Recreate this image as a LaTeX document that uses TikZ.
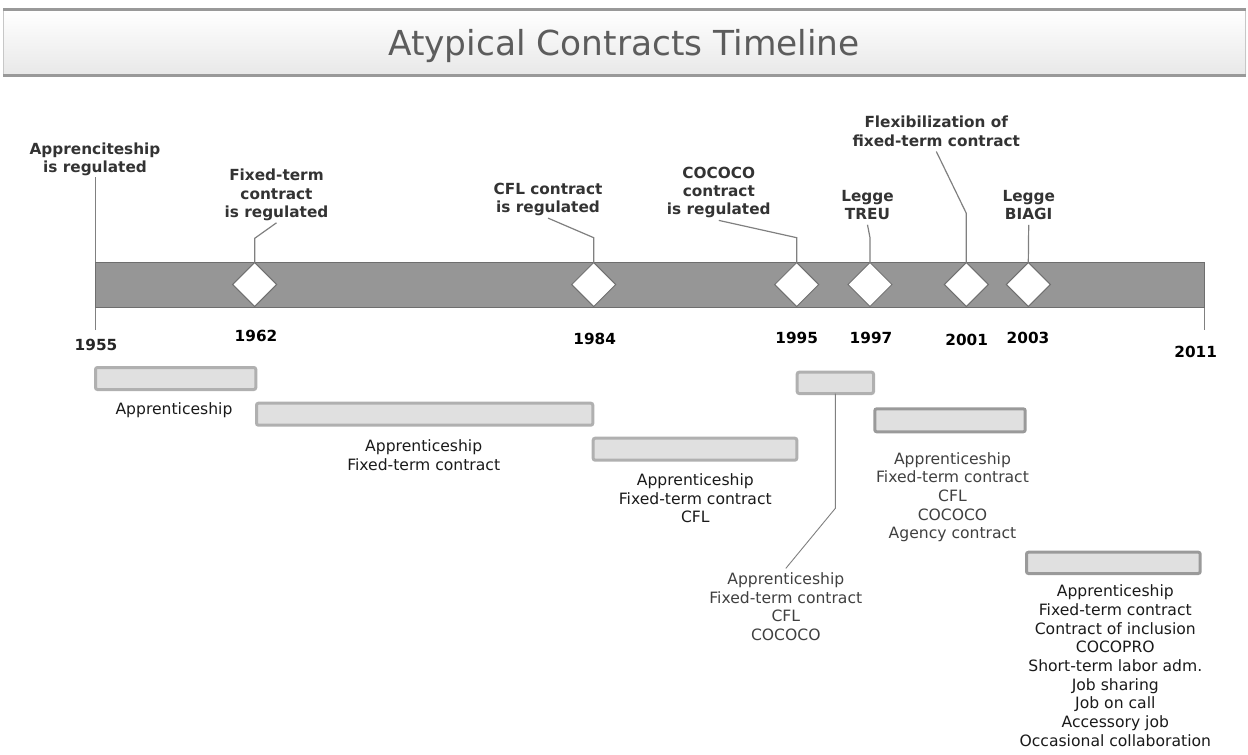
\documentclass[tikz,border=0pt]{standalone}
\usepackage{fontspec}
\setmainfont{DejaVu Sans}
\usetikzlibrary{shapes.geometric}
\newcommand\mlines[1]{\begin{tabular}[t]{@{}c@{}}#1\end{tabular}}
\definecolor{barfill}{HTML}{969696}
\definecolor{baredge}{HTML}{6E6E6E}
\definecolor{diaedge}{HTML}{707070}
\definecolor{conncol}{HTML}{808080}
\definecolor{perfill}{HTML}{E0E0E0}
\definecolor{perlineA}{HTML}{B0B0B0}
\definecolor{perlineB}{HTML}{9A9A9A}
\definecolor{lblc}{HTML}{333333}
\definecolor{txtA}{HTML}{1A1A1A}
\definecolor{txtB}{HTML}{404040}
\definecolor{titlec}{HTML}{5C5C5C}
\definecolor{bannerline}{HTML}{999999}
\begin{document}
\begin{tikzpicture}[x=1pt,y=-1pt,
  lbl/.style={font=\fontsize{15.3}{18.3}\selectfont\bfseries, text=lblc, inner sep=0pt, outer sep=0pt, anchor=base},
  yr/.style={font=\fontsize{15.3}{18}\selectfont\bfseries, text=black, inner sep=0pt, anchor=base},
  txt/.style={font=\fontsize{15.6}{18.7}\selectfont, inner sep=0pt, outer sep=0pt, anchor=base},
  dia/.style={diamond, draw=diaedge, fill=white, line width=1pt, minimum width=44pt, minimum height=44pt, inner sep=0pt, outer sep=0pt},
  period/.style={rectangle, rounded corners=2pt, fill=perfill, line width=3pt, inner sep=0pt, outer sep=0pt},
  conn/.style={draw=conncol, line width=1.2pt},
  thinconn/.style={draw=conncol, line width=0.9pt}]
\useasboundingbox (0,0) rectangle (1248,755);
\fill[white] (0,0) rectangle (1248,755);

% banner
\shade[top color=white, bottom color=black!9] (3,10.5) rectangle (1246,74.5);
\draw[black!22, line width=0.8pt] (3.4,10.5) -- (3.4,74.5);
\draw[black!22, line width=0.8pt] (1245.6,10.5) -- (1245.6,74.5);
\draw[bannerline, line width=2.6pt] (3,9.5) -- (1246,9.5);
\draw[bannerline, line width=3.2pt] (3,75.8) -- (1246,75.8);
\node[font=\fontsize{34.4}{37}\selectfont, text=titlec, inner sep=0pt, anchor=base] (title) at (624,55.5) {Atypical Contracts Timeline};

% guide lines behind the bar
\coordinate (s55) at (95.7,330);
\coordinate (t11) at (1204,262);
\coordinate (b11) at (1204,330);
\draw[thinconn] (t11) -- (b11);

% event labels
\node[lbl] (e55) at (95,154.3) {\mlines{Apprenciteship\\is regulated}};
\node[lbl] (e62) at (276.5,180.7) {\mlines{Fixed-term\\contract\\is regulated}};
\node[lbl] (e84) at (548,194.3) {\mlines{CFL contract\\is regulated}};
\node[lbl] (e95) at (718.8,178.3) {\mlines{COCOCO\\contract\\is regulated}};
\node[lbl] (e97) at (867.5,201) {\mlines{Legge\\TREU}};
\node[lbl] (e01) at (936.3,127.7) {\mlines{Flexibilization of\\fixed-term contract}};
\node[lbl] (e03) at (1028.7,201) {\mlines{Legge\\BIAGI}};

\draw[thinconn] (95.7,177) coordinate (a55) -- (s55);

% bar
\node[draw=baredge, fill=barfill, line width=0.8pt, minimum width=1108.3pt, minimum height=45pt, inner sep=0pt] (bar) at (649.85,284.8) {};

% diamonds
\node[dia] (d62) at (254.7,284.5) {};
\node[dia] (d84) at (593.7,284.5) {};
\node[dia] (d95) at (796.7,284.5) {};
\node[dia] (d97) at (870,284.5) {};
\node[dia] (d01) at (966.3,284.5) {};
\node[dia] (d03) at (1028.3,284.5) {};

% connectors
\coordinate (k62) at (254.7,238.3);
\coordinate (k84) at (593.7,237.7);
\coordinate (k95) at (796.7,237.7);
\coordinate (k97) at (870,237.7);
\coordinate (k01) at (966.3,213.3);
\draw[conn] (e62.south) -- (k62) -- (d62.north);
\draw[conn] (e84.south) -- (k84) -- (d84.north);
\draw[conn] (e95.south) -- (k95) -- (d95.north);
\draw[conn] (e97.south) -- (k97) -- (d97.north);
\draw[conn] (e01.south) -- (k01) -- (d01.north);
\draw[conn] (e03.south) -- (d03.north);

% years
\node[yr, text=black!85] (y55) at (96,350.7) {1955};
\node[yr] (y62) at (256,341) {1962};
\node[yr] (y84) at (594.7,344.3) {1984};
\node[yr] (y95) at (796.7,343.3) {1995};
\node[yr] (y97) at (871,343.3) {1997};
\node[yr] (y01) at (966.7,345) {2001};
\node[yr] (y03) at (1028,343.3) {2003};
\node[yr] (y11) at (1195.7,357.3) {2011};

% period bars
\node[period, draw=perlineA, minimum width=160.3pt, minimum height=22pt] (p1) at (175.65,378.5) {};
\node[period, draw=perlineA, minimum width=336.3pt, minimum height=22pt] (p2) at (424.65,414.2) {};
\node[period, draw=perlineA, minimum width=203.6pt, minimum height=22pt] (p3) at (695,449.2) {};
\node[period, draw=perlineA, minimum width=76.3pt, minimum height=21.3pt] (p4) at (835.35,382.85) {};
\node[period, draw=perlineB, minimum width=150.4pt, minimum height=23pt] (p5) at (950,420.3) {};
\node[period, draw=perlineB, minimum width=173.7pt, minimum height=21.3pt] (p6) at (1113.35,562.85) {};

% period texts
\node[txt, text=txtA] (t1) at (174,414) {Apprenticeship};
\node[txt, text=txtA] (t2) at (423.7,451.7) {\mlines{Apprenticeship\\Fixed-term contract}};
\node[txt, text=txtA] (t3) at (695.3,485.5) {\mlines{Apprenticeship\\Fixed-term contract\\CFL}};
\node[txt, text=txtB] (t4) at (785.8,584.5) {\mlines{Apprenticeship\\Fixed-term contract\\CFL\\COCOCO}};
\node[txt, text=txtB] (t5) at (952.5,464) {\mlines{Apprenticeship\\Fixed-term contract\\CFL\\COCOCO\\Agency contract}};
\node[txt, text=txtA] (t6) at (1115.3,596.7) {\mlines{Apprenticeship\\Fixed-term contract\\Contract of inclusion\\COCOPRO\\Short-term labor adm.\\Job sharing\\Job on call\\Accessory job\\Occasional collaboration}};

% bar 4 connector
\coordinate (k4) at (835.35,508.3);
\draw[thinconn] (p4.south) -- (k4) -- ([shift={(0,-3)}]t4.north);
\end{tikzpicture}
\end{document}
